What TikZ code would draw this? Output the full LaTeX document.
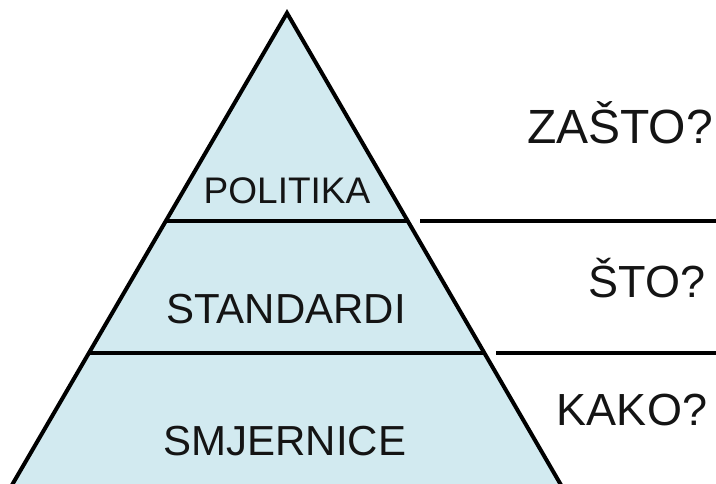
\documentclass[tikz,border=0pt]{standalone}
\usepackage{fontspec}
\setmainfont{Liberation Sans}
\usetikzlibrary{calc}
\definecolor{pyrfill}{RGB}{210,234,240}
\definecolor{txtcol}{RGB}{20,20,20}
\tikzset{
  edge/.style={line width=4pt, black},
  lbl/.style={anchor=base, inner sep=0pt, text=txtcol},
}
\begin{document}
\begin{tikzpicture}[x=1pt,y=-1pt]
\useasboundingbox (0,0) rectangle (716,483);
% triangle corners
\coordinate (apex) at (287,13);
\coordinate (bl) at (12,485);
\coordinate (br) at (561,485);
\fill[pyrfill] (apex) -- (bl) -- (br) -- cycle;
\draw[edge, line join=miter] (bl) -- (apex) -- (br);
% level lines inside
\coordinate (l1a) at ($(apex)!{(221-13)/(485-13)}!(bl)$);
\coordinate (l1b) at ($(apex)!{(221-13)/(485-13)}!(br)$);
\coordinate (l2a) at ($(apex)!{(353-13)/(485-13)}!(bl)$);
\coordinate (l2b) at ($(apex)!{(353-13)/(485-13)}!(br)$);
\draw[edge] (l1a) -- (l1b);
\draw[edge] (l2a) -- (l2b);
% right-hand lines
\coordinate (r1a) at (420,221);
\coordinate (r1b) at (716,221);
\coordinate (r2a) at (496,353);
\coordinate (r2b) at (716,353);
\draw[edge] (r1a) -- (r1b);
\draw[edge] (r2a) -- (r2b);
% labels
\node[lbl, font=\fontsize{37}{37}\selectfont] (politika) at (287,203) {POLITIKA};
\node[lbl, font=\fontsize{42}{42}\selectfont] (standardi) at (286,323) {STANDARDI};
\node[lbl, font=\fontsize{42}{42}\selectfont] (smjernice) at (285,455) {SMJERNICE};
\node[lbl, font=\fontsize{48}{48}\selectfont] (zasto) at (620,143) {ZAŠTO?};
\node[lbl, font=\fontsize{45}{45}\selectfont] (sto) at (647,297) {ŠTO?};
\node[lbl, font=\fontsize{45}{45}\selectfont] (kako) at (632,425) {KAKO?};
\end{tikzpicture}
\end{document}
